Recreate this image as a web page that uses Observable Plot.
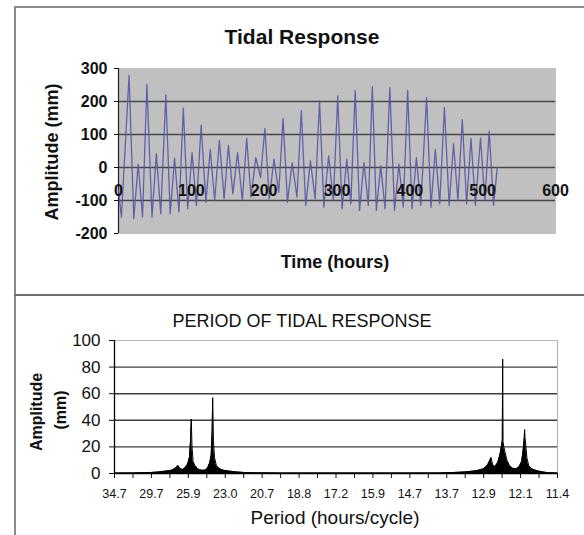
<!DOCTYPE html>
<html>
<head>
<meta charset="utf-8">
<script src="https://cdn.jsdelivr.net/npm/d3@7"></script>
<script src="https://cdn.jsdelivr.net/npm/@observablehq/plot@0.6"></script>
<style>
  html, body { margin: 0; padding: 0; background: #fff; }
  #wrap { position: relative; width: 584px; height: 535px; overflow: hidden; background: #fff; font-family: "Liberation Sans", Arial, sans-serif; }
  .lbl { position: absolute; transform: translate(-50%, -50%); white-space: nowrap; color: #111; }
  .rot { position: absolute; transform: translate(-50%, -50%) rotate(-90deg); white-space: nowrap; color: #111; }
  .plot { position: absolute; left: 0; }
  .line { position: absolute; background: #8a8a8a; }
</style>
</head>
<body>
<div id="wrap">
  <div class="line" style="left:14px; top:6px; width:2px; height:529px;"></div>
  <div class="line" style="left:14px; top:6px; width:570px; height:2px;"></div>
  <div class="line" style="left:14px; top:294px; width:570px; height:2px; background:#6f6f6f;"></div>
  <div id="top" class="plot" style="top:0px;"></div>
  <div id="bottom" class="plot" style="top:296px;"></div>
  <div class="lbl" style="left:302px; top:37px; font-size:21px; font-weight:bold;">Tidal Response</div>
  <div class="lbl" style="left:335px; top:262px; font-size:18px; font-weight:bold;">Time (hours)</div>
  <div class="rot" style="left:52px; top:152px; font-size:18px; font-weight:bold;">Amplitude (mm)</div>
  <div class="lbl" style="left:302px; top:321px; font-size:18px;">PERIOD OF TIDAL RESPONSE</div>
  <div class="lbl" style="left:335px; top:518px; font-size:19px;">Period (hours/cycle)</div>
  <div class="rot" style="left:37px; top:412px; font-size:16px; font-weight:bold;">Amplitude</div>
  <div class="rot" style="left:61px; top:410px; font-size:16px; font-weight:bold;">(mm)</div>
</div>
<script>
// ---------- Top chart: tidal response time series (turning points) ----------
const timeHours = [0, 4, 14.5, 21, 27, 33, 39, 46, 52, 58, 65, 71, 77, 83, 89, 95, 101, 107,
  113.5, 120, 126, 132, 138.5, 145, 151, 157, 163.5, 170, 176, 182, 188.5, 195, 201, 207,
  213.5, 220, 226, 232, 238.5, 245, 251, 257, 263.5, 270, 276, 282, 288.5, 295, 301, 307,
  313.5, 319, 325, 331, 337, 343, 348.5, 354, 360, 366, 372.5, 379, 385, 391, 397, 403,
  409, 415, 423, 429, 435, 441, 447.5, 454, 460, 466, 472, 478, 484, 490, 497, 503, 509, 515, 520];
const tideMm = [-70, -150, 279, -155, 10, -150, 252, -150, 42, -140, 220, -140, 28, -135, 180, -125, 45, -115,
  128, -105, 55, -100, 82, -95, 67, -80, 45, -100, 88, -90, 30, -30, 118, -95,
  25, -75, 148, -105, 15, -90, 172, -115, 20, -95, 202, -120, 35, -100, 217, -125,
  25, -110, 234, -130, 15, -115, 244, -130, 5, -125, 242, -130, 10, -120, 234, -125,
  30, -115, 212, -120, 55, -110, 182, -115, 72, -100, 145, -110, 88, -115, 90, -100, 110, -115, 0];
const timeTicks = [0, 100, 200, 300, 400, 500, 600];
const amplitudeTicks = [-200, -100, 0, 100, 200, 300];
const amplitudeGrid = [-100, 0, 100, 200];

// ---------- Bottom chart: amplitude spectrum (position along axis in label steps, amplitude mm) ----------
const periodLabels = ["34.7", "29.7", "25.9", "23.0", "20.7", "18.8", "17.2", "15.9", "14.7", "13.7", "12.9", "12.1", "11.4"];
const spectrumPos = [0, 0.5, 1.0, 1.2, 1.4, 1.55, 1.65, 1.72, 1.78, 1.85, 1.92, 1.98, 2.03, 2.06, 2.08, 2.1, 2.13, 2.18,
  2.25, 2.35, 2.45, 2.52, 2.58, 2.62, 2.645, 2.66, 2.68, 2.71, 2.76, 2.85, 2.95, 3.1, 3.3, 3.5, 3.8, 4.5,
  6.0, 7.5, 8.8, 9.2, 9.5, 9.8, 10.0, 10.1, 10.17, 10.2, 10.24, 10.3, 10.38, 10.44, 10.49, 10.505, 10.515, 10.525,
  10.545, 10.58, 10.63, 10.7, 10.78, 10.88, 10.96, 11.03, 11.08, 11.1, 11.11, 11.12, 11.14, 11.17, 11.22, 11.3,
  11.45, 11.6, 11.75, 12];
const spectrumMm = [0.3, 0.4, 0.8, 1.2, 1.8, 2.5, 4, 6, 3.5, 3, 4.5, 7, 12, 25, 41, 20, 9, 6,
  3.5, 2.5, 2.5, 4, 8, 14, 32, 57, 25, 12, 6, 3.5, 2.5, 1.8, 1.2, 0.8, 0.5, 0.3,
  0.3, 0.3, 0.4, 0.8, 1.2, 2, 3.5, 6, 10, 12, 7, 5, 8, 14, 22, 25, 86, 24,
  20, 16, 10, 6, 4, 3.5, 5, 9, 20, 27, 33, 27, 22, 12, 6, 3.5,
  2, 1.2, 0.6, 0.3];
const spectrumTicks = [0, 20, 40, 60, 80, 100];
const spectrumGrid = [20, 40, 60, 80];

const tide = timeHours.map((t, i) => ({t, v: tideMm[i]}));
const spectrum = spectrumPos.map((u, i) => ({u, a: spectrumMm[i]}));

const topPlot = Plot.plot({
  width: 584,
  height: 268,
  marginLeft: 118,
  marginRight: 29,
  marginTop: 68,
  marginBottom: 35,
  style: {fontFamily: "Liberation Sans, Arial, sans-serif", fontSize: "16px", fontWeight: "bold", background: "transparent", color: "#111"},
  x: {domain: [0, 600], axis: null},
  y: {domain: [-200, 300], axis: null},
  marks: [
    Plot.frame({fill: "#c0c0c0", stroke: "#c0c0c0"}),
    Plot.ruleY(amplitudeGrid, {stroke: "#474747", strokeWidth: 1.6}),
    Plot.ruleX([0], {stroke: "#222", strokeWidth: 1.2}),
    Plot.axisY({ticks: amplitudeTicks, tickSize: 4, tickPadding: 7, label: null, tickFormat: d => String(d)}),
    Plot.line(tide, {x: "t", y: "v", stroke: "#5656a8", strokeWidth: 1.3, strokeOpacity: 0.9}),
    Plot.text(timeTicks, {x: d => d, y: 0, dy: 23, text: d => String(d), fill: "#111", fontSize: 16, fontWeight: "bold"})
  ]
});
document.getElementById("top").appendChild(topPlot);

const bottomPlot = Plot.plot({
  width: 584,
  height: 239,
  marginLeft: 114,
  marginRight: 27,
  marginTop: 44,
  marginBottom: 62,
  style: {fontFamily: "Liberation Sans, Arial, sans-serif", fontSize: "16px", background: "transparent", color: "#111"},
  x: {domain: [0, 12], axis: null},
  y: {domain: [0, 100], axis: null},
  marks: [
    Plot.ruleY([100], {stroke: "#b5b5b5", strokeWidth: 1.2}),
    Plot.ruleX([12], {stroke: "#b5b5b5", strokeWidth: 1.2}),
    Plot.ruleY(spectrumGrid, {stroke: "#3c3c3c", strokeWidth: 1.4}),
    Plot.areaY(spectrum, {x: "u", y: "a", fill: "#000"}),
    Plot.line(spectrum, {x: "u", y: "a", stroke: "#000", strokeWidth: 1}),
    Plot.ruleY([0], {stroke: "#000", strokeWidth: 1.5}),
    Plot.ruleX([0], {stroke: "#000", strokeWidth: 1.3}),
    Plot.axisY({ticks: spectrumTicks, tickSize: 5, tickPadding: 9, label: null, fontSize: 17}),
    Plot.axisX({ticks: d3.range(0, 12.01, 0.5), tickSize: 5, tickPadding: 11, label: null, fontSize: 12.5,
      tickFormat: d => Number.isInteger(d) ? periodLabels[d] : ""})
  ]
});
document.getElementById("bottom").appendChild(bottomPlot);
</script>
</body>
</html>
